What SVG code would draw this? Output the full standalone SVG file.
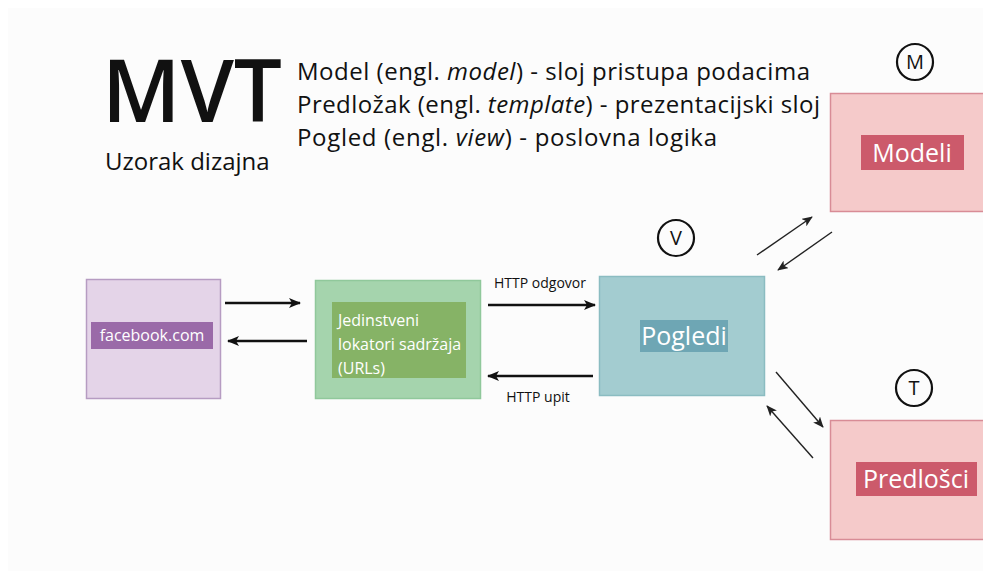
<svg xmlns="http://www.w3.org/2000/svg" width="983" height="571" viewBox="0 0 983 571">
<defs>
<marker id="ah" viewBox="0 0 12 10" refX="11" refY="5" markerWidth="12" markerHeight="10" markerUnits="userSpaceOnUse" orient="auto">
<path d="M0,0 L12,5 L0,10 L3,5 Z" fill="#111"/>
</marker>
<marker id="ahs" viewBox="0 0 12 10" refX="11" refY="5" markerWidth="11" markerHeight="9" markerUnits="userSpaceOnUse" orient="auto">
<path d="M0,0 L12,5 L0,10 L3,5 Z" fill="#222"/>
</marker>
<style>
text{font-family:"Open Sans","Noto Sans","DejaVu Sans",sans-serif;}
.head{font-size:24px;fill:#111;}
.lbl{fill:#fff;}
.thick{stroke:#111;stroke-width:2.4;fill:none;marker-end:url(#ah);}
.thin{stroke:#222;stroke-width:1.4;fill:none;marker-end:url(#ahs);}
.circ{fill:none;stroke:#111;stroke-width:2.2;}
.ctext{font-size:20px;fill:#111;text-anchor:middle;}
</style>
</defs>
<rect x="0" y="0" width="983" height="571" fill="#ffffff"/>
<rect x="8" y="8" width="975" height="563" fill="#fcfcfc"/>

<g id="title">
<text x="102" y="122" font-size="87" font-weight="600" fill="#111" textLength="180" lengthAdjust="spacingAndGlyphs">MVT</text>
<text x="105" y="170" font-size="24" fill="#111">Uzorak dizajna</text>
<text class="head" x="297" y="80" textLength="513">Model (engl. <tspan font-style="italic">model</tspan>) - sloj pristupa podacima</text>
<text class="head" x="297" y="113" textLength="523">Predložak (engl. <tspan font-style="italic">template</tspan>) - prezentacijski sloj</text>
<text class="head" x="297" y="146" textLength="420">Pogled (engl. <tspan font-style="italic">view</tspan>) - poslovna logika</text>
</g>

<g id="facebook">
<rect x="86.5" y="279.5" width="134" height="119" fill="#e4d4e8" stroke="#b69cc2" stroke-width="1.5"/>
<rect x="91" y="322" width="122" height="27" fill="#9a6aa8"/>
<text class="lbl" x="152" y="341" font-size="16" text-anchor="middle">facebook.com</text>
</g>

<g id="urls">
<rect x="315.5" y="280.5" width="165" height="118" fill="#a5d4ad" stroke="#90c89b" stroke-width="1.5"/>
<rect x="332" y="302" width="134" height="76" fill="#86b366"/>
<text class="lbl" x="338" y="326" font-size="16">Jedinstveni</text>
<text class="lbl" x="338" y="350" font-size="16">lokatori sadržaja</text>
<text class="lbl" x="338" y="374" font-size="16">(URLs)</text>
</g>

<g id="pogledi">
<rect x="599.5" y="276.5" width="165" height="119" fill="#a3ccd0" stroke="#8bbcc1" stroke-width="1.5"/>
<rect x="640" y="320" width="88" height="32" fill="#6ea6b4"/>
<text class="lbl" x="684" y="345" font-size="25" text-anchor="middle">Pogledi</text>
<circle class="circ" cx="676" cy="238" r="18"/>
<text class="ctext" x="676" y="245">V</text>
</g>

<g id="modeli">
<rect x="830.5" y="93.5" width="160" height="118" fill="#f5caca" stroke="#d88c96" stroke-width="1.5"/>
<rect x="861" y="135" width="103" height="35" fill="#cc5a6b"/>
<text class="lbl" x="912" y="162" font-size="25" text-anchor="middle">Modeli</text>
<circle class="circ" cx="915" cy="62" r="18"/>
<text class="ctext" x="915" y="69">M</text>
</g>

<g id="predlosci">
<rect x="830.5" y="420.5" width="160" height="119" fill="#f5caca" stroke="#d88c96" stroke-width="1.5"/>
<rect x="856" y="462" width="121" height="34" fill="#cc5a6b"/>
<text class="lbl" x="916" y="488" font-size="25" text-anchor="middle">Predlošci</text>
<circle class="circ" cx="914" cy="388" r="18"/>
<text class="ctext" x="914" y="395">T</text>
</g>

<g id="connectors">
<line class="thick" x1="225" y1="303" x2="300" y2="303"/>
<line class="thick" x1="307" y1="341" x2="228" y2="341"/>
<line class="thick" x1="488" y1="305" x2="595" y2="305"/>
<line class="thick" x1="593" y1="376" x2="488" y2="376"/>
<text x="540" y="288" font-size="14" fill="#111" text-anchor="middle">HTTP odgovor</text>
<text x="538" y="402" font-size="14" fill="#111" text-anchor="middle">HTTP upit</text>
<line class="thin" x1="757" y1="255" x2="812" y2="217"/>
<line class="thin" x1="832" y1="232" x2="778" y2="270"/>
<line class="thin" x1="776" y1="372" x2="823" y2="427"/>
<line class="thin" x1="813" y1="458" x2="767" y2="406"/>
</g>
</svg>
